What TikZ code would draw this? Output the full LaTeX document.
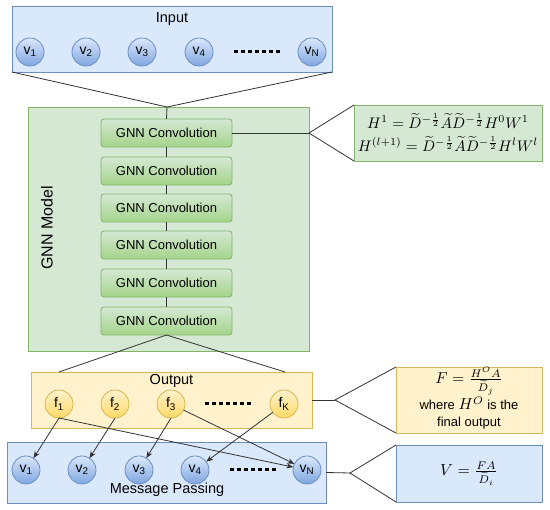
\documentclass[tikz,border=0pt]{standalone}
\usepackage{amsmath}
\usepackage{graphicx}
\usepackage{fontspec}
\setmainfont{Liberation Sans}
\usetikzlibrary{arrows.meta}
\definecolor{bfill}{HTML}{DAE8FC}
\definecolor{bstroke}{HTML}{6C8EBF}
\definecolor{bdark}{HTML}{7EA6E0}
\definecolor{gfill}{HTML}{D5E8D4}
\definecolor{gstroke}{HTML}{82B366}
\definecolor{gdark}{HTML}{97D077}
\definecolor{yfill}{HTML}{FFF2CC}
\definecolor{ystroke}{HTML}{D6B656}
\definecolor{ydark}{HTML}{FFD966}
\definecolor{lnk}{HTML}{333333}
\newcommand{\mth}[2]{\scalebox{#1}{\normalsize$#2$}}
\begin{document}
\begin{tikzpicture}[x=1pt,y=-1pt,
  every node/.style={font=\fontsize{13}{15}\selectfont, inner sep=0pt, outer sep=0pt},
  panel/.style={draw=#1stroke, fill=#1fill, line width=0.9pt},
  vnode/.style={circle, draw=bstroke, top color=bfill, bottom color=bdark, minimum size=28pt, line width=0.8pt, font=\fontsize{14}{16}\selectfont},
  fnode/.style={circle, draw=ystroke, top color=yfill, bottom color=ydark, minimum size=28pt, line width=0.8pt, font=\fontsize{14}{16}\selectfont},
  conv/.style={draw=gstroke, top color=gfill, bottom color=gdark!80!gfill, rounded corners=3pt, minimum width=131pt, minimum height=28pt, line width=0.8pt},
  link/.style={draw=lnk, line width=0.8pt},
  arr/.style={link, -{Stealth[length=7pt,width=5.5pt]}},
  dots/.style={line width=3pt, dash pattern=on 3.5pt off 3.5pt, draw=black},
  title/.style={font=\fontsize{14.5}{16}\selectfont}
]
\fill[white] (0,0) rectangle (550,510);
\useasboundingbox (0,0) rectangle (550,510);

% ---------- Input ----------
\node[panel=b, minimum width=320pt, minimum height=66pt] (input) at (172,39) {};
\node[title] (inlab) at (172,19) {Input};
\node[vnode] (i1) at (30,52) {v\textsubscript{1}};
\node[vnode] (i2) at (86,52) {v\textsubscript{2}};
\node[vnode] (i3) at (142,52) {v\textsubscript{3}};
\node[vnode] (i4) at (199,52) {v\textsubscript{4}};
\node[vnode] (iN) at (312,52) {v\textsubscript{N}};
\coordinate (id1) at (234,52); \coordinate (id2) at (281,52);
\draw[dots] (id1) -- (id2);

% ---------- GNN model ----------
\node[panel=g, minimum width=281pt, minimum height=244pt] (gnn) at (168.5,229) {};
\node[font=\fontsize{16}{18}\selectfont, rotate=90] (gnnlab) at (47,228) {GNN Model};
\foreach \i/\y in {1/133,2/171,3/208,4/245,5/283,6/321}{
  \node[conv] (c\i) at (166.5,\y) {GNN Convolution};
}
\coordinate (gtop) at (167,107);
\draw[link] (input.south west) -- (gtop) -- (input.south east);
\draw[link] (gtop) -- (c1.north);
\foreach \a/\b in {1/2,2/3,3/4,4/5,5/6}{ \draw[link] (c\a.south) -- (c\b.north); }

% formula 1
\node[panel=g, minimum width=188pt, minimum height=56pt] (form1) at (448,133) {};
\node (form1a) at (448,121)
 {\mth{1.53}{H^1=\widetilde{D}^{-\frac{1}{2}}\widetilde{A}\widetilde{D}^{-\frac{1}{2}}H^0W^1}};
\node (form1b) at (448,144)
 {\mth{1.53}{H^{(l+1)}=\widetilde{D}^{-\frac{1}{2}}\widetilde{A}\widetilde{D}^{-\frac{1}{2}}H^lW^l}};
\coordinate (fan1) at (309,133);
\draw[link] (c1.east) -- (fan1);
\draw[link] (form1.north west) -- (fan1) -- (form1.south west);

% ---------- Output ----------
\node[panel=y, minimum width=281pt, minimum height=56pt] (output) at (171.5,400) {};
\node[title] (outlab) at (171.5,381) {Output};
\coordinate (ot1) at (59,372); \coordinate (ot2) at (285,372);
\draw[link] (ot1) -- (c6.south) -- (ot2);

% ---------- Message passing ----------
\node[panel=b, minimum width=319pt, minimum height=61pt] (msg) at (166.5,472.5) {};
\node[title] (msglab) at (167,490) {Message Passing};

\node[fnode] (f1) at (59,404) {f\textsubscript{1}};
\node[fnode] (f2) at (115,404) {f\textsubscript{2}};
\node[fnode] (f3) at (171,404) {f\textsubscript{3}};
\node[fnode] (fK) at (284,404) {f\textsubscript{K}};
\coordinate (fd1) at (205,404); \coordinate (fd2) at (252,404);
\draw[dots] (fd1) -- (fd2);

\node[vnode] (m1) at (26,470) {v\textsubscript{1}};
\node[vnode] (m2) at (82,470) {v\textsubscript{2}};
\node[vnode] (m3) at (139,470) {v\textsubscript{3}};
\node[vnode] (m4) at (195,470) {v\textsubscript{4}};
\node[vnode] (mN) at (307,470) {v\textsubscript{N}};
\coordinate (md1) at (230,470); \coordinate (md2) at (277,470);
\draw[dots] (md1) -- (md2);

\draw[arr] (f1.south) -- (m1);
\draw[arr] (f1.south) -- (mN);
\draw[arr] (f2.south) -- (m2);
\draw[arr] (f3.south) -- (m3);
\draw[arr] (f3) -- (mN);
\draw[arr] (fK) -- (m4);

% formula 2 (yellow)
\node[panel=y, minimum width=146pt, minimum height=66pt] (form2) at (469,400) {};
\node (form2a) at (469,381) {\mth{1.58}{F=\frac{H^OA}{\widetilde{D}_j}}};
\node[anchor=base] (form2b) at (469,410) {where \mth{1.58}{H^O} is the};
\node[anchor=base] (form2c) at (469,427) {final output};
\coordinate (fan2) at (335,400);
\draw[link] (output.east) -- (fan2);
\draw[link] (form2.north west) -- (fan2) -- (form2.south west);

% formula 3 (blue)
\node[panel=b, minimum width=146pt, minimum height=57pt] (form3) at (469,473.5) {};
\node (form3t) at (469,473.5) {\mth{1.6}{V=\frac{FA}{\widetilde{D}_i}}};
\coordinate (fan3) at (350,473);
\draw[link] (msg.east) -- (fan3);
\draw[link] (form3.north west) -- (fan3) -- (form3.south west);
\end{tikzpicture}
\end{document}
